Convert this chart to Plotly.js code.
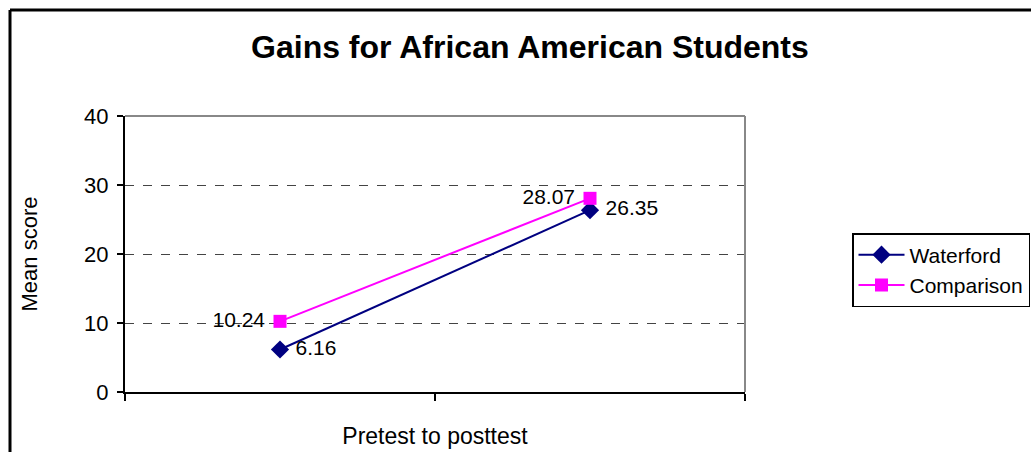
<!DOCTYPE html>
<html>
<head>
<meta charset="utf-8">
<script src="https://cdn.plot.ly/plotly-3.0.1.min.js"></script>
<style>html,body{margin:0;padding:0;background:#fff;}#chart{width:1031px;height:452px;}</style>
</head>
<body>
<div id="chart"></div>
<script>
const categories = [0, 1];
const waterford = [6.16, 26.35];
const comparison = [10.24, 28.07];
const waterfordLabels = ["6.16", "26.35"];
const comparisonLabels = ["10.24", "28.07"];
const yTicks = [0, 10, 20, 30, 40];

const font = "Liberation Sans, Arial, sans-serif";
const pad = "\u00a0";

const traces = [
  {
    x: categories, y: waterford, name: "Waterford", type: "scatter", mode: "lines+markers+text",
    text: waterfordLabels.map(s => pad + s), textposition: "middle right",
    textfont: {family: font, size: 21, color: "#000"},
    line: {color: "#000080", width: 2},
    marker: {symbol: "diamond", size: 14, color: "#000080"},
    cliponaxis: false
  },
  {
    x: categories, y: comparison, name: "Comparison", type: "scatter", mode: "lines+markers+text",
    text: comparisonLabels.map(s => s + pad), textposition: "middle left",
    textfont: {family: font, size: 21, color: "#000"},
    line: {color: "#FF00FF", width: 2},
    marker: {symbol: "square", size: 13, color: "#FF00FF"},
    cliponaxis: false
  }
];

const L = 125, R = 745, T = 116, B = 392, W = 1031, H = 452;
const px = v => (v - L) / (R - L);
const py = v => (B - v) / (B - T);

const layout = {
  width: W, height: H,
  margin: {l: L, r: W - R, t: T, b: H - B, pad: 0, autoexpand: false},
  paper_bgcolor: "#fff", plot_bgcolor: "#fff",
  font: {family: font, size: 22, color: "#000"},
  title: {text: "<b>Gains for African American Students</b>", font: {family: font, size: 32, color: "#000"},
          x: 0.514, xanchor: "center", y: 0.897, yanchor: "middle"},
  showlegend: true,
  legend: {x: px(1030), y: py(233), xanchor: "right", yanchor: "top", bordercolor: "#000", borderwidth: 1.5,
           bgcolor: "#fff", font: {family: font, size: 21, color: "#000"}, tracegroupgap: 0, itemwidth: 46},
  xaxis: {
    range: [-0.5, 1.5], tickvals: [-0.5, 0.5, 1.5], showticklabels: false,
    ticks: "outside", ticklen: 7, tickwidth: 2, tickcolor: "#000",
    showline: true, linecolor: "#000", linewidth: 2, showgrid: false, zeroline: false,
    title: {text: "Pretest to posttest", font: {family: font, size: 23}, standoff: 28}
  },
  yaxis: {
    range: [0, 40], tickvals: yTicks, ticks: "outside", ticklen: 6, tickwidth: 2, tickcolor: "#000",
    showline: true, linecolor: "#000", linewidth: 2, zeroline: false,
    showgrid: true, gridcolor: "#444", griddash: "dash", gridwidth: 1,
    tickfont: {family: font, size: 22}, ticklabelstandoff: 4,
    title: {text: "Mean score", font: {family: font, size: 22}, standoff: 40}
  },
  shapes: [
    {type: "line", xref: "paper", yref: "paper", x0: 0, x1: 1, y0: 1, y1: 1, line: {color: "#888", width: 2}},
    {type: "line", xref: "paper", yref: "paper", x0: 1, x1: 1, y0: 0, y1: 1, line: {color: "#888", width: 2}},
    {type: "line", xref: "paper", yref: "paper", x0: px(10), x1: px(1040), y0: py(10), y1: py(10), line: {color: "#000", width: 3}},
    {type: "line", xref: "paper", yref: "paper", x0: px(10), x1: px(10), y0: py(10), y1: py(460), line: {color: "#000", width: 3}}
  ]
};

Plotly.newPlot("chart", traces, layout, {displayModeBar: false, staticPlot: true});
</script>
</body>
</html>
